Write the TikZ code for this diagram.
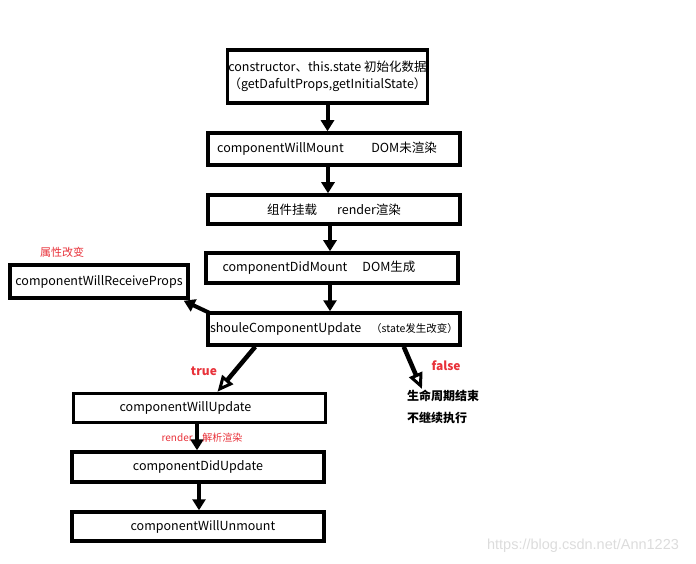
\documentclass[tikz,border=0pt]{standalone}
\usepackage{fontspec}
\setmainfont{Noto Sans CJK SC}
\newfontfamily\urlfont{Liberation Sans}
\usetikzlibrary{arrows.meta}
\usetikzlibrary{positioning}
\definecolor{labelred}{HTML}{E8323A}
\definecolor{markgray}{HTML}{DCDCDC}
\tikzset{
  every picture/.style={x=1pt,y=-1pt},
  stage/.style={draw, line width=3.5pt, minimum width=252pt, minimum height=30pt,
    inner sep=1pt, font=\fontsize{12.5}{14}\selectfont},
  flow/.style={line width=4pt, -{Triangle[width=13pt,length=11pt]}},
  branch/.style={line width=4.5pt, -{Triangle[open,width=14pt,length=16pt,line width=3pt]}},
  redlabel/.style={text=labelred, font=\fontsize{11}{13}\selectfont}
}

\begin{document}
\begin{tikzpicture}
  \useasboundingbox (0,0) rectangle (696,564);

  \node [stage, minimum width=195pt, minimum height=53pt, align=center] (ctor) at (327.5,76.5)
    {constructor、this.state 初始化数据\\[3pt]（getDafultProps,getInitialState）};
  \node [stage, minimum height=32pt] (willmount) at (334,149) {componentWillMount\hspace{2.2em}DOM未渲染\hspace*{14pt}};
  \node [stage, minimum height=29pt] (mount) at (334,209.5) {组件挂载\hspace{1.6em}render渲染};
  \node [stage] (didmount) at (332,268) {componentDidMount\hspace{1.2em}DOM生成\hspace*{26pt}};
  \node [stage, minimum height=32pt] (shouldupdate) at (334,329)
    {shouleComponentUpdate\hspace{0.8em}{\fontsize{10.5}{12}\selectfont（state发生改变）}};

  \node [stage, minimum width=178pt, minimum height=33pt] (receive) at (99,281.5) {componentWillReceiveProps};
  \node [redlabel] (propchange) at (62,252) {属性改变};

  \node [stage, minimum height=29pt] (willupdate) at (199.5,408) {componentWillUpdate\hspace*{28pt}};
  \node [stage] (didupdate) at (198,467) {componentDidUpdate};
  \node [stage, minimum height=29pt] (unmount) at (198,526.5) {\hspace*{10pt}componentWillUnmount};

  \node [anchor=north west, align=left, inner sep=0pt, font=\fontsize{12}{22}\selectfont\bfseries]
    (lifeend) at (407,390) {生命周期结束\\不继续执行};

  \draw [flow] (ctor.south) -- (ctor.south |- willmount.north);
  \draw [flow] (328,0 |- willmount.south) -- (328,0 |- mount.north);
  \draw [flow] (330,0 |- mount.south) -- (330,0 |- didmount.north);
  \draw [flow] (330,0 |- didmount.south) -- (330,0 |- shouldupdate.north);
  \draw [flow] ([xshift=4pt,yshift=-2pt]shouldupdate.north west) -- ([xshift=-6pt,yshift=-1pt]receive.south east);

  \draw [branch] ([xshift=49pt]shouldupdate.south west) -- node [pos=0.55, left=12pt, redlabel, font=\fontsize{12}{14}\selectfont\bfseries] {true}
    ([xshift=18pt]willupdate.north);
  \draw [branch] ([xshift=-58pt]shouldupdate.south east) -- node [pos=0.45, right=14pt, redlabel, font=\fontsize{12}{14}\selectfont\bfseries] {false}
    ([xshift=15pt,yshift=1pt]lifeend.north west);

  \draw [flow] (197,0 |- willupdate.south) -- node [left=-1pt, redlabel, font=\fontsize{10}{12}\selectfont] {render}
    node [right=0pt, redlabel, font=\fontsize{10}{12}\selectfont] {解析渲染} (197,0 |- didupdate.north);
  \draw [flow] (199,0 |- didupdate.south) -- (199,0 |- unmount.north);

  \node [text=markgray, font=\urlfont\fontsize{14.5}{16}\selectfont] (watermark) at (583,546) {https://blog.csdn.net/Ann1223};
\end{tikzpicture}
\end{document}
